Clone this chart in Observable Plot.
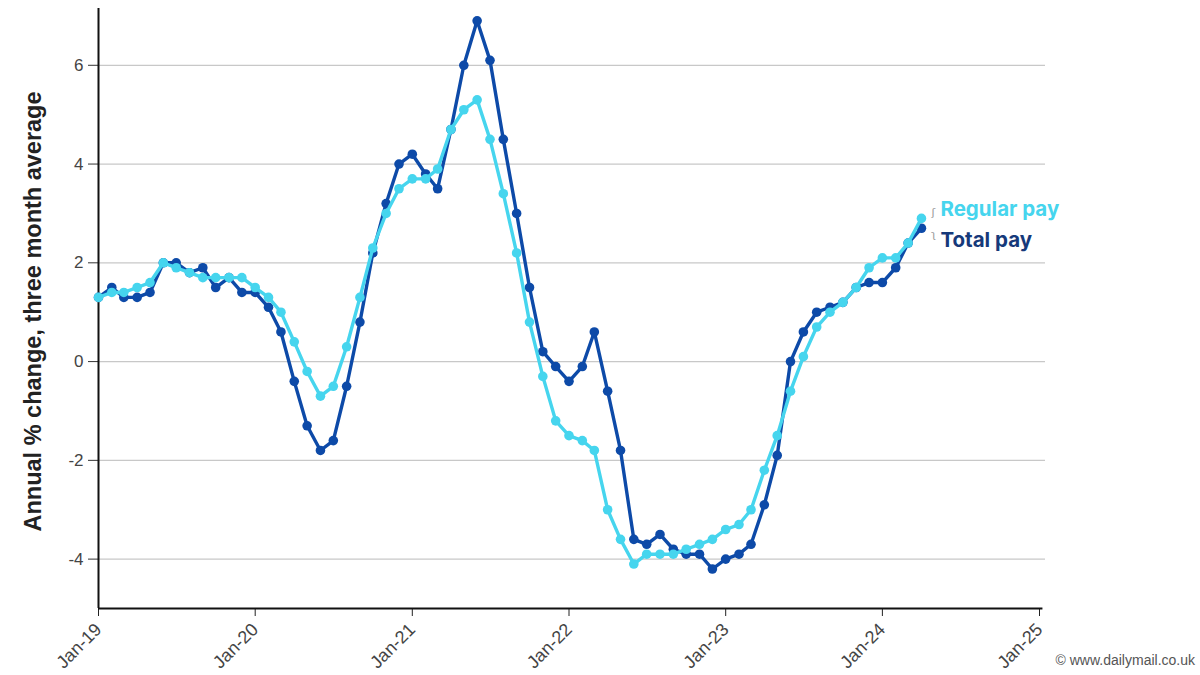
<!DOCTYPE html>
<html>
<head>
<meta charset="utf-8">
<script src="https://cdn.jsdelivr.net/npm/d3@7"></script>
<script src="https://cdn.jsdelivr.net/npm/@observablehq/plot@0.6"></script>
<style>
  html, body { margin: 0; padding: 0; background: #fff; }
  #wrap { position: relative; width: 1200px; height: 675px; overflow: hidden; }
  #credit { position: absolute; right: 5px; bottom: 7px; font: 14px "Liberation Sans Narrow", "Liberation Sans", sans-serif; color: #555; }
</style>
</head>
<body>
<div id="wrap"><div id="credit">© www.dailymail.co.uk</div></div>
<script>
// Monthly observations, Jan 2019 – Apr 2024
const startMonth = "2019-01-01";
const totalPay = [
  1.3, 1.5, 1.3, 1.3, 1.4, 2.0, 2.0, 1.8, 1.9, 1.5, 1.7, 1.4,
  1.4, 1.1, 0.6, -0.4, -1.3, -1.8, -1.6, -0.5, 0.8, 2.2, 3.2, 4.0,
  4.2, 3.8, 3.5, 4.7, 6.0, 6.9, 6.1, 4.5, 3.0, 1.5, 0.2, -0.1,
  -0.4, -0.1, 0.6, -0.6, -1.8, -3.6, -3.7, -3.5, -3.8, -3.9, -3.9, -4.2,
  -4.0, -3.9, -3.7, -2.9, -1.9, 0.0, 0.6, 1.0, 1.1, 1.2, 1.5, 1.6,
  1.6, 1.9, 2.4, 2.7
];
const regularPay = [
  1.3, 1.4, 1.4, 1.5, 1.6, 2.0, 1.9, 1.8, 1.7, 1.7, 1.7, 1.7,
  1.5, 1.3, 1.0, 0.4, -0.2, -0.7, -0.5, 0.3, 1.3, 2.3, 3.0, 3.5,
  3.7, 3.7, 3.9, 4.7, 5.1, 5.3, 4.5, 3.4, 2.2, 0.8, -0.3, -1.2,
  -1.5, -1.6, -1.8, -3.0, -3.6, -4.1, -3.9, -3.9, -3.9, -3.8, -3.7, -3.6,
  -3.4, -3.3, -3.0, -2.2, -1.5, -0.6, 0.1, 0.7, 1.0, 1.2, 1.5, 1.9,
  2.1, 2.1, 2.4, 2.9
];
const seriesNames = ["Regular pay", "Total pay"];
const seriesColors = ["#46d5ee", "#0d4aa8"];
const labelColors = ["#46d5ee", "#16397a"];
const xTickDates = ["2019-01-01","2020-01-01","2021-01-01","2022-01-01","2023-01-01","2024-01-01","2025-01-01"];
const yTicks = [-4, -2, 0, 2, 4, 6];
const yLabel = "Annual % change, three month average";

const start = new Date(startMonth);
const months = totalPay.map((_, i) => d3.utcMonth.offset(start, i));
const totalRows = months.map((m, i) => ({date: m, value: totalPay[i], series: "Total pay"}));
const regRows = months.map((m, i) => ({date: m, value: regularPay[i], series: "Regular pay"}));
const lastReg = regRows[regRows.length - 1];
const lastTot = totalRows[totalRows.length - 1];
const xTicks = xTickDates.map(s => new Date(s));
const fmt = d3.utcFormat("%b-%y");
const xEnd = xTicks[xTicks.length - 1];

const chart = Plot.plot({
  width: 1200,
  height: 675,
  marginLeft: 98,
  marginRight: 161,
  marginTop: 8,
  marginBottom: 67,
  style: {fontFamily: "'Liberation Sans', Arial, sans-serif", background: "#fff", overflow: "visible"},
  x: {type: "utc", domain: [xTicks[0], xEnd]},
  y: {domain: [-5, 7.15]},
  marks: [
    Plot.ruleY(yTicks, {stroke: "#c8c8c8", strokeWidth: 1.2, x1: xTicks[0], x2: d3.utcDay.offset(xEnd, 14)}),
    Plot.axisY({ticks: yTicks, tickFormat: d => String(d), tickSize: 10, tickPadding: 5, fontSize: 17, color: "#444", stroke: "#333", label: null}),
    Plot.axisX({ticks: xTicks, tickFormat: fmt, tickRotate: -45, tickSize: 8, tickPadding: 10, fontSize: 18, color: "#444", stroke: "#222", label: null}),
    Plot.ruleX([xTicks[0]], {stroke: "#111", strokeWidth: 2}),
    Plot.ruleY([-5], {stroke: "#111", strokeWidth: 2, x1: xTicks[0], x2: d3.utcDay.offset(xEnd, 8)}),
    Plot.text([yLabel], {frameAnchor: "left", textAnchor: "middle", dx: -65, dy: 3, rotate: -90, fontSize: 23.5, fontWeight: "bold", fill: "#222", fontFamily: "'Liberation Sans', Arial, sans-serif"}),
    Plot.line(totalRows, {x: "date", y: "value", stroke: seriesColors[1], strokeWidth: 3.4}),
    Plot.dot(totalRows, {x: "date", y: "value", r: 4.8, fill: seriesColors[1], stroke: null}),
    Plot.line(regRows, {x: "date", y: "value", stroke: seriesColors[0], strokeWidth: 3.4}),
    Plot.dot(regRows, {x: "date", y: "value", r: 4.8, fill: seriesColors[0], stroke: null}),
    Plot.text([lastReg], {x: "date", y: "value", text: d => seriesNames[0], dx: 19, dy: -9, textAnchor: "start", fontSize: 20.5, fontWeight: "bold", fill: labelColors[0], fontFamily: "Inter, 'Noto Sans', sans-serif"}),
    Plot.text([lastTot], {x: "date", y: "value", text: d => seriesNames[1], dx: 19, dy: 12, textAnchor: "start", fontSize: 20.5, fontWeight: "bold", fill: labelColors[1], fontFamily: "Inter, 'Noto Sans', sans-serif"}),
    Plot.text([lastReg], {x: "date", y: "value", text: d => "ʃ", dx: 12, dy: -6, fontSize: 11, fill: "#999", fontFamily: "DejaVu Sans"}),
    Plot.text([lastTot], {x: "date", y: "value", text: d => "ʅ", dx: 12, dy: 6, fontSize: 11, fill: "#999", fontFamily: "DejaVu Sans"})
  ]
});
document.getElementById("wrap").prepend(chart);
</script>
</body>
</html>
